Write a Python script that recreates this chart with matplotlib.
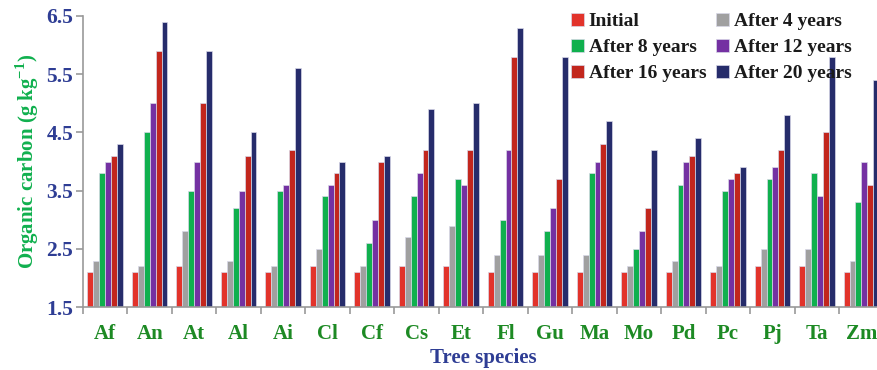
import numpy as np
import matplotlib
matplotlib.use("Agg")
import matplotlib.pyplot as plt

# Data
species = ["Af", "An", "At", "Al", "Ai", "Cl", "Cf", "Cs", "Et",
           "Fl", "Gu", "Ma", "Mo", "Pd", "Pc", "Pj", "Ta", "Zm"]
initial = [2.1, 2.1, 2.2, 2.1, 2.1, 2.2, 2.1, 2.2, 2.2, 2.1, 2.1, 2.1, 2.1, 2.1, 2.1, 2.2, 2.2, 2.1]
after4 = [2.3, 2.2, 2.8, 2.3, 2.2, 2.5, 2.2, 2.7, 2.9, 2.4, 2.4, 2.4, 2.2, 2.3, 2.2, 2.5, 2.5, 2.3]
after8 = [3.8, 4.5, 3.5, 3.2, 3.5, 3.4, 2.6, 3.4, 3.7, 3.0, 2.8, 3.8, 2.5, 3.6, 3.5, 3.7, 3.8, 3.3]
after12 = [4.0, 5.0, 4.0, 3.5, 3.6, 3.6, 3.0, 3.8, 3.6, 4.2, 3.2, 4.0, 2.8, 4.0, 3.7, 3.9, 3.4, 4.0]
after16 = [4.1, 5.9, 5.0, 4.1, 4.2, 3.8, 4.0, 4.2, 4.2, 5.8, 3.7, 4.3, 3.2, 4.1, 3.8, 4.2, 4.5, 3.6]
after20 = [4.3, 6.4, 5.9, 4.5, 5.6, 4.0, 4.1, 4.9, 5.0, 6.3, 5.8, 4.7, 4.2, 4.4, 3.9, 4.8, 5.8, 5.4]

series = [initial, after4, after8, after12, after16, after20]
labels = ["Initial", "After 4 years", "After 8 years",
          "After 12 years", "After 16 years", "After 20 years"]
colors = ["#e2332b", "#a0a0a0", "#10b04e", "#7431a2", "#c2261d", "#262c6b"]

plt.rcParams['font.family'] = ['Liberation Serif', 'DejaVu Serif']
plt.rcParams['font.weight'] = 'bold'
plt.rcParams['mathtext.fontset'] = 'custom'
plt.rcParams['mathtext.rm'] = 'Liberation Serif:bold'
plt.rcParams['mathtext.bf'] = 'Liberation Serif:bold'

fig = plt.figure(figsize=(8.77, 3.70), dpi=100)
ax = fig.add_axes([0.0946, 0.170, 0.913, 0.787])

x = np.arange(len(species))
w = 0.8 / 6
handles = []
for i, (vals, lab, col) in enumerate(zip(series, labels, colors)):
    b = ax.bar(x - 0.4 + w * (i + 0.5), np.array(vals) - 1.5, width=w, bottom=1.5,
               color=col, edgecolor="#d8d8e8", linewidth=0.5, label=lab)
    handles.append(b)

ax.set_xlim(-0.5, len(species) - 0.5)
ax.set_ylim(1.5, 6.5)
ax.set_yticks([1.5, 2.5, 3.5, 4.5, 5.5, 6.5])
ax.set_yticklabels(["1.5", "2.5", "3.5", "4.5", "5.5", "6.5"],
                   color="#2e3d94", fontsize=15.5, fontweight="bold")
ax.set_xticks(x)
ax.set_xticklabels(species, color="#1d8a24", fontsize=15, fontweight="bold")
ax.set_xticks(np.arange(-0.5, len(species), 1), minor=True)
ax.tick_params(axis="x", which="major", length=0, pad=12)
ax.tick_params(axis="x", which="minor", length=5, color="#999999", width=1.2)
ax.tick_params(axis="y", length=5, color="#999999", width=1.2, pad=2)

for s in ["top", "right"]:
    ax.spines[s].set_visible(False)
for s in ["left", "bottom"]:
    ax.spines[s].set_color("#999999")
    ax.spines[s].set_linewidth(1.2)

ax.set_ylabel("Organic carbon (g kg$^{-1}$)", color="#10b04e",
              fontsize=15, fontweight="bold", labelpad=4)
ax.set_xlabel("Tree species", color="#2e3d94", fontsize=15,
              fontweight="bold", labelpad=3)

# legend filled row by row: Initial | After 4, After 8 | After 12, After 16 | After 20
order = [0, 2, 4, 1, 3, 5]
leg = ax.legend([handles[k] for k in order], [labels[k] for k in order],
                ncol=2, loc="upper left", bbox_to_anchor=(0.588, 1.07),
                frameon=False, fontsize=14, handlelength=0.65, handleheight=0.65,
                handletextpad=0.25, columnspacing=0.5, labelspacing=0.45)
for t in leg.get_texts():
    t.set_color("#1a1a1a")
    t.set_fontweight("bold")

fig.savefig("out.png", dpi=100)
